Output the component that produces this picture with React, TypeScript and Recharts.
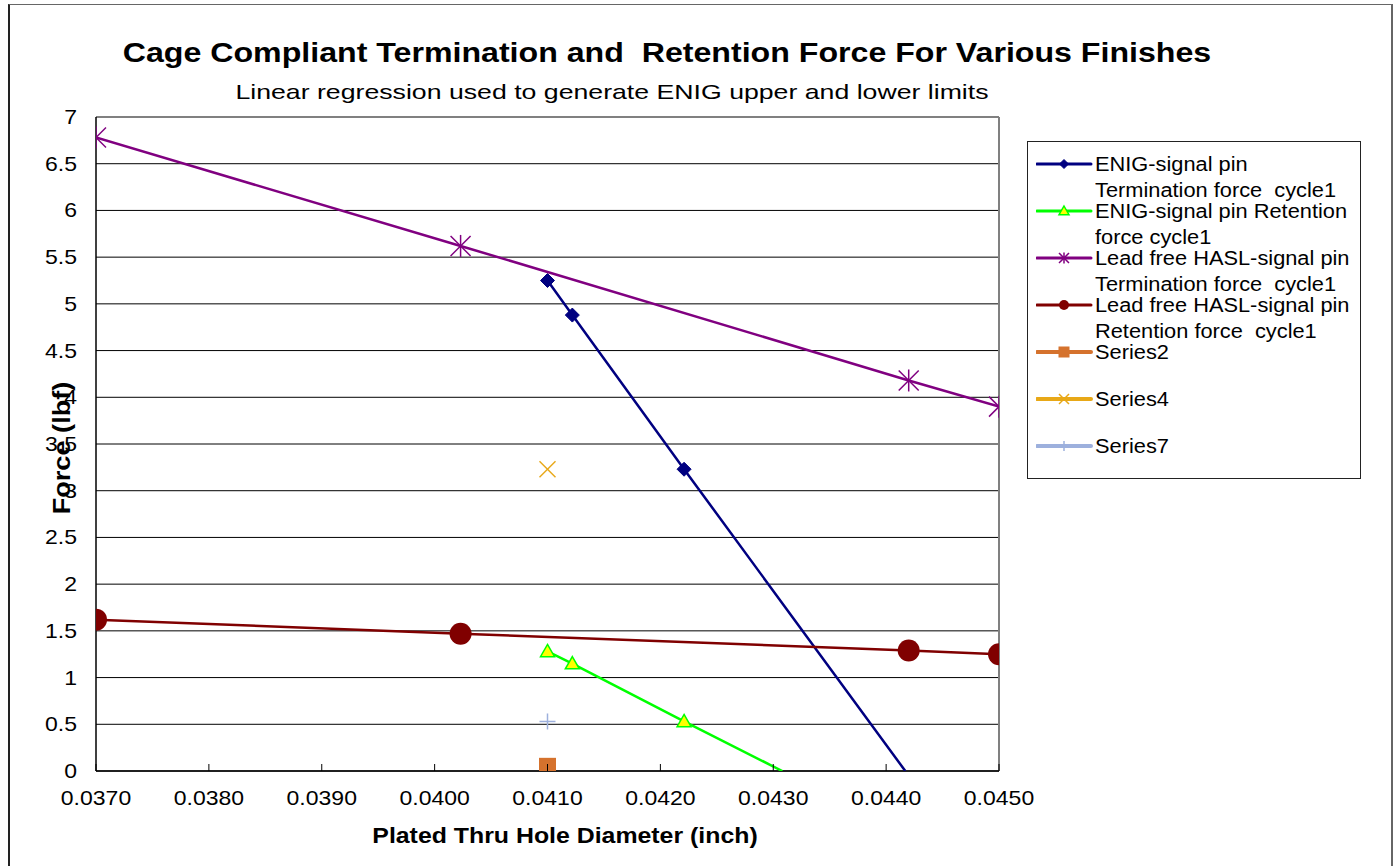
import React from "react";
import { ScatterChart, Scatter, XAxis, YAxis, CartesianGrid, ReferenceLine } from "recharts";

const xTicks = [0.037, 0.038, 0.039, 0.04, 0.041, 0.042, 0.043, 0.044, 0.045];
const yTicks = [0, 0.5, 1, 1.5, 2, 2.5, 3, 3.5, 4, 4.5, 5, 5.5, 6, 6.5, 7];

const enigTermX = [0.041, 0.04122, 0.04221, 0.04417];
const enigTermY = [5.25, 4.88, 3.23, 0];
const enigTermMark = [true, true, true, false];

const enigRetX = [0.041, 0.04122, 0.04221, 0.04308];
const enigRetY = [1.28, 1.15, 0.53, 0];
const enigRetMark = [true, true, true, false];

const haslTermX = [0.037, 0.04023, 0.0442, 0.045];
const haslTermY = [6.78, 5.62, 4.18, 3.9];

const haslRetX = [0.037, 0.04023, 0.0442, 0.045];
const haslRetY = [1.62, 1.47, 1.29, 1.25];

const series2X = [0.041];
const series2Y = [0.05];
const series4X = [0.041];
const series4Y = [3.23];
const series7X = [0.041];
const series7Y = [0.53];

const build = (xs: number[], ys: number[], marks?: boolean[]) =>
  xs.map((x, i) => ({ x, y: ys[i], m: marks ? marks[i] : true }));

const C_NAVY = "#000080";
const C_GREEN = "#00FF00";
const C_PURPLE = "#800080";
const C_DRED = "#800000";
const C_ORANGE = "#D5722D";
const C_GOLD = "#E8A817";
const C_LBLUE = "#9DB0DD";

const FONT = "Arial, 'Liberation Sans', sans-serif";

type MP = { cx: number; cy: number; s?: number };

const Diamond = ({ cx, cy, s = 7 }: MP) => (
  <polygon points={`${cx},${cy - s} ${cx + s},${cy} ${cx},${cy + s} ${cx - s},${cy}`} fill={C_NAVY} stroke={C_NAVY} />
);
const Tri = ({ cx, cy, s = 7 }: MP) => (
  <polygon points={`${cx},${cy - s} ${cx + s},${cy + s * 0.75} ${cx - s},${cy + s * 0.75}`} fill="#FFFF00" stroke={C_GREEN} strokeWidth={1.5} />
);
const Star = ({ cx, cy, s = 10 }: MP) => (
  <g stroke={C_PURPLE} strokeWidth={1.5}>
    <line x1={cx - s} y1={cy - s} x2={cx + s} y2={cy + s} />
    <line x1={cx - s} y1={cy + s} x2={cx + s} y2={cy - s} />
    <line x1={cx} y1={cy - s * 1.1} x2={cx} y2={cy + s * 1.1} />
  </g>
);
const Dot = ({ cx, cy, s = 11 }: MP) => <circle cx={cx} cy={cy} r={s} fill={C_DRED} />;
const Sq = ({ cx, cy, s = 8.5 }: MP) => <rect x={cx - s} y={cy - s} width={s * 2} height={s * 2} fill={C_ORANGE} />;
const Xm = ({ cx, cy, s = 8 }: MP) => (
  <g stroke={C_GOLD} strokeWidth={1.5}>
    <line x1={cx - s} y1={cy - s} x2={cx + s} y2={cy + s} />
    <line x1={cx - s} y1={cy + s} x2={cx + s} y2={cy - s} />
  </g>
);
const Plus = ({ cx, cy, s = 8 }: MP) => (
  <g stroke={C_LBLUE} strokeWidth={1.5}>
    <line x1={cx - s} y1={cy} x2={cx + s} y2={cy} />
    <line x1={cx} y1={cy - s} x2={cx} y2={cy + s} />
  </g>
);

const shapeOf = (M: React.FC<MP>) => (props: any) =>
  props.payload && props.payload.m === false ? <g /> : <M cx={props.cx} cy={props.cy} />;

const XTick = (props: any) => {
  const { x, y, payload } = props;
  return (
    <g>
      <line x1={x} y1={y - 7} x2={x} y2={y} stroke="#000" strokeWidth={1} />
      <text transform={`translate(${x},${y + 34}) scale(1.15,1)`} textAnchor="middle" fontSize={20} fontFamily={FONT} fill="#000">
        {Number(payload.value).toFixed(4)}
      </text>
    </g>
  );
};

const YTick = (props: any) => {
  const { x, y, payload } = props;
  return (
    <text transform={`translate(${x},${y + 7}) scale(1.15,1)`} textAnchor="end" fontSize={20} fontFamily={FONT} fill="#000">
      {String(payload.value)}
    </text>
  );
};

const legendItems: { lines: string[]; color: string; w: number; M: React.FC<MP>; ms: number }[] = [
  { lines: ["ENIG-signal pin", "Termination force  cycle1"], color: C_NAVY, w: 3, M: Diamond, ms: 4.5 },
  { lines: ["ENIG-signal pin Retention", "force cycle1"], color: C_GREEN, w: 3, M: Tri, ms: 5 },
  { lines: ["Lead free HASL-signal pin", "Termination force  cycle1"], color: C_PURPLE, w: 3, M: Star, ms: 5 },
  { lines: ["Lead free HASL-signal pin", "Retention force  cycle1"], color: C_DRED, w: 3, M: Dot, ms: 5 },
  { lines: ["Series2"], color: C_ORANGE, w: 4, M: Sq, ms: 5.5 },
  { lines: ["Series4"], color: C_GOLD, w: 4, M: Xm, ms: 5 },
  { lines: ["Series7"], color: C_LBLUE, w: 4, M: Plus, ms: 5 },
];

export default function App() {
  return (
    <div style={{ position: "absolute", left: 0, top: 0, width: 1397, height: 866, overflow: "hidden", background: "#fff", fontFamily: FONT }}>
      <div style={{ position: "absolute", left: 8, top: 4, width: 1381, height: 900, borderLeft: "2px solid #222", borderTop: "1.5px solid #666", borderRight: "2px solid #666" }} />
      <div style={{ position: "absolute", left: 0, width: 1334, top: 37, textAlign: "center", fontSize: 27, fontWeight: "bold", whiteSpace: "pre", lineHeight: "32px", transform: "scaleX(1.19)" }}>
        {"Cage Compliant Termination and  Retention Force For Various Finishes"}
      </div>
      <div style={{ position: "absolute", left: 0, width: 1224, top: 79, textAlign: "center", fontSize: 21, whiteSpace: "pre", lineHeight: "26px", transform: "scaleX(1.27)" }}>
        {"Linear regression used to generate ENIG upper and lower limits"}
      </div>
      <div style={{ position: "absolute", left: 0, width: 1130, top: 822, textAlign: "center", fontSize: 22, fontWeight: "bold", lineHeight: "28px", transform: "scaleX(1.13)" }}>
        Plated Thru Hole Diameter (inch)
      </div>
      <div style={{ position: "absolute", left: 62 - 100, top: 448 - 14, width: 200, height: 28, textAlign: "center", fontSize: 23, fontWeight: "bold", lineHeight: "28px", transform: "rotate(-90deg) scaleX(1.18)" }}>
        Force (lbf)
      </div>
      <div style={{ position: "absolute", left: 0, top: 0 }}>
        <ScatterChart width={1397} height={866} margin={{ top: 117, right: 398, bottom: 55, left: 36 }}>
          <CartesianGrid horizontal vertical={false} stroke="#000" strokeWidth={1} />
          <XAxis
            type="number"
            dataKey="x"
            domain={[0.037, 0.045]}
            ticks={xTicks}
            allowDataOverflow
            height={40}
            tickSize={0}
            tickMargin={0}
            tickLine={false}
            tick={<XTick />}
            axisLine={{ stroke: "#000", strokeWidth: 1.5 }}
          />
          <YAxis
            type="number"
            dataKey="y"
            domain={[0, 7]}
            ticks={yTicks}
            allowDataOverflow
            width={60}
            tickSize={0}
            tickMargin={19}
            tickLine={false}
            tick={<YTick />}
            axisLine={{ stroke: "#000", strokeWidth: 1.5 }}
          />
          <ReferenceLine y={7} stroke="#808080" strokeWidth={2} />
          <ReferenceLine x={0.045} stroke="#808080" strokeWidth={2} />
          <Scatter data={build(enigTermX, enigTermY, enigTermMark)} line={{ stroke: C_NAVY, strokeWidth: 2.5 }} lineType="joint" shape={shapeOf(Diamond)} isAnimationActive={false} />
          <Scatter data={build(enigRetX, enigRetY, enigRetMark)} line={{ stroke: C_GREEN, strokeWidth: 2.5 }} lineType="joint" shape={shapeOf(Tri)} isAnimationActive={false} />
          <Scatter data={build(haslTermX, haslTermY)} line={{ stroke: C_PURPLE, strokeWidth: 2.5 }} lineType="joint" shape={shapeOf(Star)} isAnimationActive={false} />
          <Scatter data={build(haslRetX, haslRetY)} line={{ stroke: C_DRED, strokeWidth: 2.5 }} lineType="joint" shape={shapeOf(Dot)} isAnimationActive={false} />
          <Scatter data={build(series2X, series2Y)} shape={shapeOf(Sq)} isAnimationActive={false} />
          <Scatter data={build(series4X, series4Y)} shape={shapeOf(Xm)} isAnimationActive={false} />
          <Scatter data={build(series7X, series7Y)} shape={shapeOf(Plus)} isAnimationActive={false} />
        </ScatterChart>
      </div>
      <div style={{ position: "absolute", left: 1027, top: 141, width: 334, height: 338, border: "1.5px solid #222", boxSizing: "border-box", paddingTop: 9 }}>
        {legendItems.map((it, i) => (
          <div key={i} style={{ position: "relative", height: 47 }}>
            <svg width={60} height={26} style={{ position: "absolute", left: 8, top: 0 }}>
              <line x1={1} y1={13} x2={55} y2={13} stroke={it.color} strokeWidth={it.w} strokeLinecap="round" />
              <it.M cx={28} cy={13} s={it.ms} />
            </svg>
            <div style={{ position: "absolute", left: 67, top: 0, fontSize: 20, lineHeight: "26px", whiteSpace: "pre", color: "#000", transform: "scaleX(1.09)", transformOrigin: "left center" }}>
              {it.lines.join("\n")}
            </div>
          </div>
        ))}
      </div>
    </div>
  );
}
